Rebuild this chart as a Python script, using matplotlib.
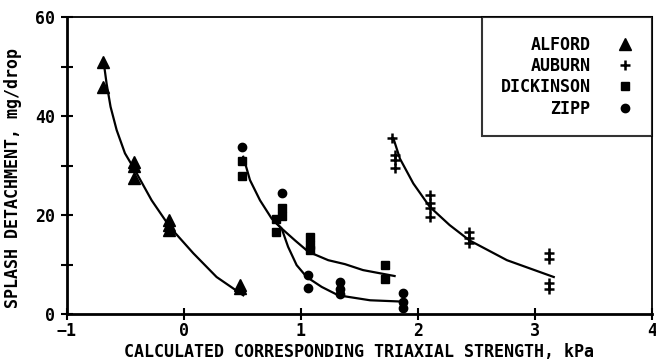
import matplotlib
matplotlib.use("Agg")
import matplotlib.pyplot as plt

# measured points (triaxial strength kPa, splash mg/drop)
alford_x = [-0.69, -0.69, -0.43, -0.43, -0.43, -0.13, -0.13, -0.13, 0.48, 0.48]
alford_y = [50.9, 46.0, 30.7, 30.0, 27.5, 19.0, 18.0, 17.0, 5.8, 5.3]

auburn_x = [1.78, 1.80, 1.80, 1.80, 2.10, 2.10, 2.10, 2.10, 2.44, 2.44, 2.44, 3.12, 3.12, 3.12, 3.12]
auburn_y = [35.5, 32.1, 31.1, 29.5, 24.0, 22.5, 21.5, 19.7, 16.6, 15.3, 14.3, 12.3, 11.1, 6.3, 5.0]

dickinson_x = [0.50, 0.50, 0.79, 0.79, 0.84, 0.84, 1.08, 1.08, 1.08, 1.72, 1.72]
dickinson_y = [31.0, 28.0, 19.3, 16.6, 21.5, 19.8, 15.6, 14.0, 13.0, 9.9, 7.0]

zipp_x = [0.50, 0.84, 1.06, 1.06, 1.33, 1.33, 1.33, 1.87, 1.87, 1.87]
zipp_y = [33.7, 24.4, 7.9, 5.2, 6.5, 5.0, 4.0, 4.2, 2.5, 1.2]

# fitted curves
alford_fit_x = [-0.684, -0.661, -0.627, -0.575, -0.504, -0.419, -0.276, -0.12, 0.08, 0.279, 0.507]
alford_fit_y = [50.6, 46.6, 41.9, 37.2, 32.5, 29.1, 23.0, 17.6, 12.3, 7.5, 3.8]

zipp_fit_x = [0.507, 0.564, 0.65, 0.75, 0.835, 0.89, 0.963, 1.049, 1.177, 1.319, 1.59, 1.90]
zipp_fit_y = [31.8, 27.1, 23.0, 19.3, 17.3, 13.6, 9.9, 7.5, 5.5, 3.8, 2.8, 2.5]

dick_fit_x = [0.78, 0.835, 0.949, 1.063, 1.233, 1.376, 1.53, 1.80]
dick_fit_y = [18.6, 17.3, 14.9, 12.6, 10.9, 10.1, 8.9, 7.7]

auburn_fit_x = [1.79, 1.846, 1.96, 2.10, 2.27, 2.44, 2.76, 3.16]
auburn_fit_y = [35.5, 31.4, 26.4, 21.7, 18.0, 14.9, 10.9, 7.5]

plt.rcParams["font.family"] = "DejaVu Sans Mono"
plt.rcParams["font.weight"] = "bold"
plt.rcParams["axes.labelweight"] = "bold"
plt.rcParams["font.size"] = 12

fig = plt.figure(figsize=(6.56, 3.59), dpi=100)
ax = fig.add_axes([0.102, 0.125, 0.892, 0.827])

# curves
for fx, fy in [(alford_fit_x, alford_fit_y), (zipp_fit_x, zipp_fit_y),
               (dick_fit_x, dick_fit_y), (auburn_fit_x, auburn_fit_y)]:
    ax.plot(fx, fy, color="black", lw=1.6, zorder=2, solid_joinstyle="round")

# points
ax.plot(alford_x, alford_y, "^", color="black", ms=8, ls="none", label="ALFORD", zorder=3)
ax.plot(auburn_x, auburn_y, "+", color="black", ms=7, mew=1.8, ls="none", label="AUBURN", zorder=3)
ax.plot(dickinson_x, dickinson_y, "s", color="black", ms=6, mfc="black", ls="none",
        label="DICKINSON", zorder=3)
ax.plot(zipp_x, zipp_y, "o", color="black", ms=6, ls="none", label="ZIPP", zorder=3)

ax.set_xlim(-1, 4)
ax.set_ylim(0, 60)
ax.set_xticks([-1, 0, 1, 2, 3, 4])
ax.set_yticks([0, 20, 40, 60])
ax.set_yticks([10, 30, 50], minor=True)
ax.tick_params(which="both", direction="inout", length=9, width=1.5, labelsize=12, pad=4)
ax.tick_params(axis="x", pad=1)

for side in ["left", "bottom"]:
    ax.spines[side].set_linewidth(2.0)
for side in ["top", "right"]:
    ax.spines[side].set_linewidth(1.3)

ax.set_xlabel("CALCULATED CORRESPONDING TRIAXIAL STRENGTH, kPa", fontsize=12, labelpad=2)
ax.set_ylabel("SPLASH DETACHMENT, mg/drop", fontsize=12)
ax.yaxis.set_label_coords(-0.076, 0.46)

leg = ax.legend(loc="upper right", markerfirst=False, frameon=True, fancybox=False,
                borderaxespad=0, handlelength=1.0, handletextpad=1.6, labelspacing=0.2,
                borderpad=1.1, fontsize=12)
leg.get_frame().set_edgecolor("black")
leg.get_frame().set_linewidth(1.5)
for t in leg.get_texts():
    t.set_ha("right")
leg._legend_box.align = "right"

fig.savefig("out.png", dpi=100)
